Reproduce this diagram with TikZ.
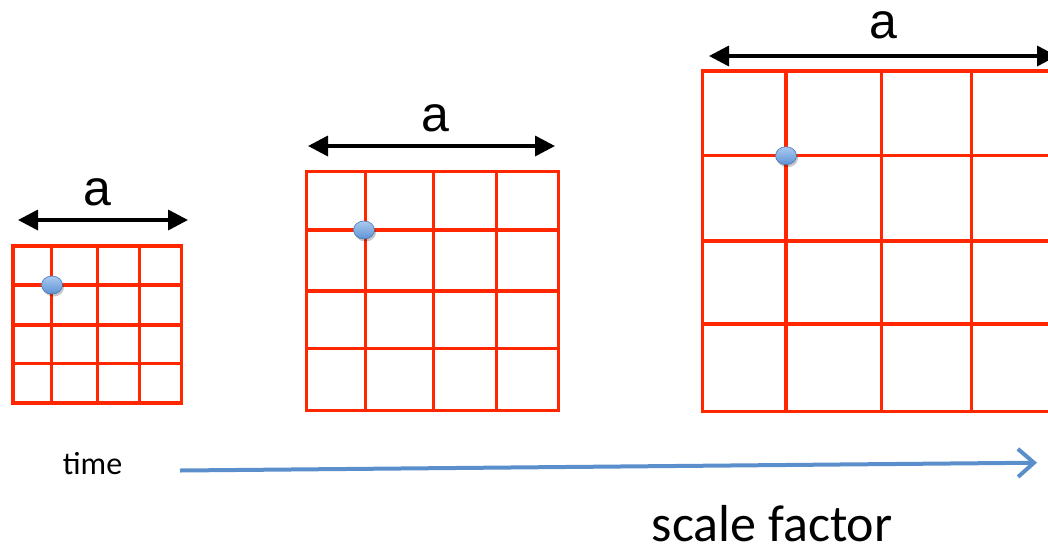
\documentclass[tikz,border=0pt]{standalone}
\usepackage{fontspec}
\setmainfont{Liberation Sans}
\newfontfamily\calfont{Carlito}
\usetikzlibrary{arrows.meta}
\definecolor{gridred}{RGB}{255,38,0}
\definecolor{axisblue}{RGB}{91,143,203}
\definecolor{dottop}{RGB}{170,202,240}
\definecolor{dotbot}{RGB}{95,146,212}
\definecolor{dotrim}{RGB}{70,118,180}
\begin{document}
\begin{tikzpicture}[x=1pt,y=-1pt,
  gridline/.style={draw=gridred, line width=3.5pt},
  dimarrow/.style={{Triangle[length=20pt,width=20pt]}-{Triangle[length=20pt,width=20pt]}, line width=3.5pt, black},
  alabel/.style={font=\fontsize{50}{50}\selectfont, inner sep=0pt},
  dotshadow/.style={fill=black, opacity=0.22},
  dotball/.style={top color=dottop, bottom color=dotbot, draw=dotrim, line width=0.6pt},
  axisarrow/.style={-{Straight Barb[length=16pt,width=28pt]}, line width=4pt, draw=axisblue}
]
\useasboundingbox (0,0) rectangle (1048,555);
\begin{scope}
\clip (0,0) rectangle (1048,555);
% small grid
\foreach \x in {13,51.7,97.7,139.3,181.7} \draw[gridline] (\x,246) -- (\x,403);
\foreach \y in {246,285,325,363.3,403} \draw[gridline] (13,\y) -- (181.7,\y);
\draw[gridline] (13,246) rectangle (181.7,403);
% medium grid
\foreach \x in {306.7,365.7,433.3,496.7,558.3} \draw[gridline] (\x,171.7) -- (\x,410.7);
\foreach \y in {171.7,230,291,348.3,410.7} \draw[gridline] (306.7,\y) -- (558.3,\y);
\draw[gridline] (306.7,171.7) rectangle (558.3,410.7);
% large grid
\foreach \x in {702.7,786,881.7,971.7,1062} \draw[gridline] (\x,71) -- (\x,411.7);
\foreach \y in {71,155.7,241,324,411.7} \draw[gridline] (702.7,\y) -- (1062,\y);
\draw[gridline] (702.7,71) rectangle (1062,411.7);

% dots
\foreach \p/\q in {52/285,364/230,786/155.7}{
  \fill[dotshadow] (\p+1.5,\q+2.5) ellipse [x radius=10.5pt, y radius=9pt];
  \shade[dotball] (\p,\q) ellipse [x radius=10.5pt, y radius=9pt];
}

% dimension arrows
\coordinate (s1) at (18,220);   \coordinate (s2) at (188,220);
\coordinate (m1) at (308,146);  \coordinate (m2) at (555,146);
\coordinate (l1) at (709,56);   \coordinate (l2) at (1057,56);
\draw[dimarrow] (s1) -- (s2);
\draw[dimarrow] (m1) -- (m2);
\draw[dimarrow] (l1) -- (l2);
\node[alabel] (as) at (97,192.7) {a};
\node[alabel] (am) at (435,118.3) {a};
\node[alabel] (al) at (883,25) {a};

% time axis
\coordinate (t1) at (180,470.5);
\coordinate (t2) at (1037,462.7);
\draw[axisarrow] (t1) -- (t2);
\node[font=\calfont\fontsize{32}{32}\selectfont, inner sep=0pt, anchor=base west] (time) at (62.7,474.5) {time};
\node[font=\calfont\fontsize{52}{52}\selectfont, inner sep=0pt, anchor=base west] (sf) at (651.7,541.5) {scale factor};
\end{scope}
\end{tikzpicture}
\end{document}
